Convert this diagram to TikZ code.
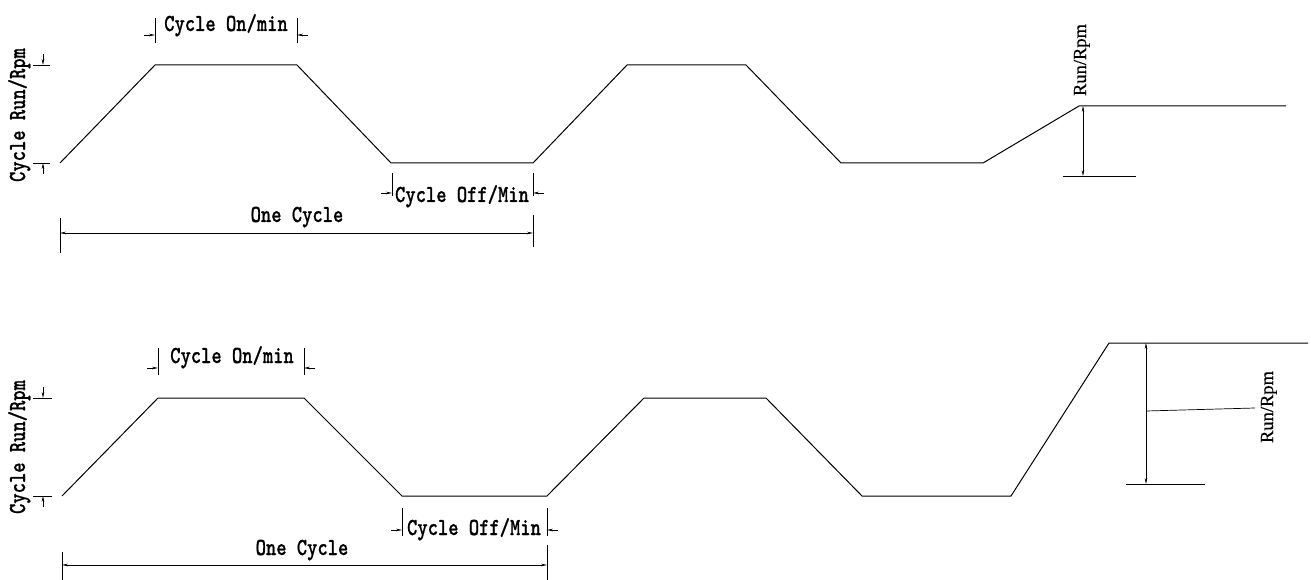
\documentclass[tikz,border=0pt]{standalone}
\usepackage{fontspec}
\usetikzlibrary{arrows.meta}
\newfontfamily\serfont{Liberation Serif}[FakeBold=0.4]
\newfontfamily\dimfont{lmmonolt10-bold.otf}[FakeBold=0.8]
\newcommand\dimtxt[1]{\scalebox{0.8}[1]{\fontsize{24.5}{24.5}\dimfont #1}}
\newcommand\sertxt[1]{{\fontsize{18.5}{18.5}\serfont #1}}
\tikzset{
  prof/.style={line width=1pt, line join=miter},
  dim/.style={line width=0.7pt},
  tip/.tip={Stealth[length=6pt,width=2.6pt]},
  arr/.style={dim,-tip},
  darr/.style={dim,tip-tip},
  lbl/.style={inner sep=0pt, anchor=base},
  rlbl/.style={inner sep=0pt, anchor=base, rotate=90},
}
\begin{document}
\begin{tikzpicture}[x=1pt,y=-1pt]
\useasboundingbox[fill=white] (0,0) rectangle (1311,580);

%% ---------- TOP CHART ----------
\coordinate (t1) at (60,163);  \coordinate (t2) at (155,65);
\coordinate (t3) at (297,65);  \coordinate (t4) at (391,163);
\coordinate (t5) at (533,163); \coordinate (t6) at (627,65);
\coordinate (t7) at (746,65);  \coordinate (t8) at (841,163);
\coordinate (t9) at (983,163); \coordinate (t10) at (1079,106);
\coordinate (t11) at (1286,106);
\draw[prof] (t1)--(t2)--(t3)--(t4)--(t5)--(t6)--(t7)--(t8)--(t9)--(t10)--(t11);

% left vertical dimension
\coordinate (tla) at (33,65);  \coordinate (tlb) at (50,65);
\coordinate (tlc) at (33,163); \coordinate (tld) at (50,163);
\draw[dim] (tla)--(tlb); \draw[dim] (tlc)--(tld);
\coordinate (tle) at (43,54);  \coordinate (tlf) at (43,65);
\coordinate (tlg) at (43,174); \coordinate (tlh) at (43,163);
\draw[arr] (tle)--(tlf); \draw[arr] (tlg)--(tlh);
\node[rlbl] (tRun) at (25,115) {\dimtxt{Cycle Run/Rpm}};

% cycle on
\coordinate (toa) at (155,18); \coordinate (tob) at (155,43);
\coordinate (toc) at (297,18); \coordinate (tod) at (297,43);
\draw[dim] (toa)--(tob); \draw[dim] (toc)--(tod);
\coordinate (toe) at (144,35); \coordinate (tof) at (155,35);
\coordinate (tog) at (308,35); \coordinate (toh) at (297,35);
\draw[arr] (toe)--(tof); \draw[arr] (tog)--(toh);
\node[lbl] (tOn) at (226,31) {\dimtxt{Cycle On/min}};

% cycle off
\coordinate (tfa) at (392,173); \coordinate (tfb) at (392,196);
\coordinate (tfc) at (533,173); \coordinate (tfd) at (533,196);
\draw[dim] (tfa)--(tfb); \draw[dim] (tfc)--(tfd);
\coordinate (tfe) at (381,193); \coordinate (tff) at (392,193);
\coordinate (tfg) at (544,193); \coordinate (tfh) at (533,193);
\draw[arr] (tfe)--(tff); \draw[arr] (tfg)--(tfh);
\node[lbl] (tOff) at (462,202) {\dimtxt{Cycle Off/Min}};

% one cycle
\coordinate (tca) at (60,218);  \coordinate (tcb) at (60,253);
\coordinate (tcc) at (533,215); \coordinate (tcd) at (533,247);
\draw[dim] (tca)--(tcb); \draw[dim] (tcc)--(tcd);
\coordinate (tce) at (60,233); \coordinate (tcf) at (533,233);
\draw[darr] (tce)--(tcf);
\node[lbl] (tOne) at (297,222) {\dimtxt{One Cycle}};

% right run/rpm
\coordinate (tra) at (1083,106); \coordinate (trb) at (1083,176);
\draw[darr] (tra)--(trb);
\coordinate (trc) at (1063,176); \coordinate (trd) at (1136,176);
\draw[dim] (trc)--(trd);
\node[rlbl] (tRR) at (1086,60) {\sertxt{Run/Rpm}};

%% ---------- BOTTOM CHART ----------
\coordinate (b1) at (62,496);   \coordinate (b2) at (158,398);
\coordinate (b3) at (304,398);  \coordinate (b4) at (402,496);
\coordinate (b5) at (547,496);  \coordinate (b6) at (644,398);
\coordinate (b7) at (766,398);  \coordinate (b8) at (862,496);
\coordinate (b9) at (1011,496); \coordinate (b10) at (1109,343);
\coordinate (b11) at (1308,343);
\draw[prof] (b1)--(b2)--(b3)--(b4)--(b5)--(b6)--(b7)--(b8)--(b9)--(b10)--(b11);

% left vertical dimension
\coordinate (bla) at (33,398);  \coordinate (blb) at (52,398);
\coordinate (blc) at (33,496);  \coordinate (bld) at (52,496);
\draw[dim] (bla)--(blb); \draw[dim] (blc)--(bld);
\coordinate (ble) at (43,387);  \coordinate (blf) at (43,398);
\coordinate (blg) at (43,507);  \coordinate (blh) at (43,496);
\draw[arr] (ble)--(blf); \draw[arr] (blg)--(blh);
\node[rlbl] (bRun) at (25,447) {\dimtxt{Cycle Run/Rpm}};

% cycle on
\coordinate (boa) at (158,348); \coordinate (bob) at (158,375);
\coordinate (boc) at (304,348); \coordinate (bod) at (304,375);
\draw[dim] (boa)--(bob); \draw[dim] (boc)--(bod);
\coordinate (boe) at (147,368); \coordinate (bof) at (158,368);
\coordinate (bog) at (315,368); \coordinate (boh) at (304,368);
\draw[arr] (boe)--(bof); \draw[arr] (bog)--(boh);
\node[lbl] (bOn) at (232,363) {\dimtxt{Cycle On/min}};

% cycle off
\coordinate (bfa) at (402,508); \coordinate (bfb) at (402,536);
\coordinate (bfc) at (547,508); \coordinate (bfd) at (547,536);
\draw[dim] (bfa)--(bfb); \draw[dim] (bfc)--(bfd);
\coordinate (bfe) at (391,530); \coordinate (bff) at (402,530);
\coordinate (bfg) at (558,530); \coordinate (bfh) at (547,530);
\draw[arr] (bfe)--(bff); \draw[arr] (bfg)--(bfh);
\node[lbl] (bOff) at (474,535) {\dimtxt{Cycle Off/Min}};

% one cycle
\coordinate (bca) at (62,552);  \coordinate (bcb) at (62,580);
\coordinate (bcc) at (547,545); \coordinate (bcd) at (547,580);
\draw[dim] (bca)--(bcb); \draw[dim] (bcc)--(bcd);
\coordinate (bce) at (62,565); \coordinate (bcf) at (547,565);
\draw[darr] (bce)--(bcf);
\node[lbl] (bOne) at (302,555) {\dimtxt{One Cycle}};

% right run/rpm
\coordinate (bra) at (1146,343); \coordinate (brb) at (1146,484);
\draw[darr] (bra)--(brb);
\coordinate (brc) at (1126,484); \coordinate (brd) at (1205,484);
\draw[dim] (brc)--(brd);
\node[rlbl] (bRR) at (1273,407) {\sertxt{Run/Rpm}};
\coordinate (bre) at (1146,411); \coordinate (brf) at (1255,408);
\draw[dim] (bre)--(brf);
\end{tikzpicture}
\end{document}
